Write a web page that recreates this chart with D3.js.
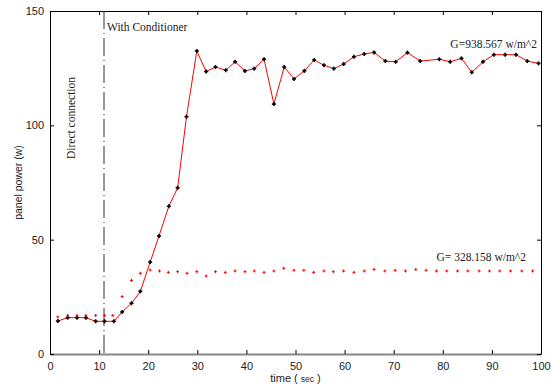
<!DOCTYPE html>
<html>
<head>
<meta charset="utf-8">
<script src="https://cdn.jsdelivr.net/npm/d3@7"></script>
<style>
  body { margin: 0; background: #fff; }
  svg text { font-family: "Liberation Sans", Arial, sans-serif; }
</style>
</head>
<body>
<div id="chart"></div>
<script>
// time (s) and panel power (w), G = 938.567 w/m^2
const highTime = [1.6, 3.6, 5.5, 7.3, 9.3, 11.1, 13.0, 14.7, 16.6, 18.4, 20.4, 22.2, 24.2, 26.0, 27.8, 29.9,
    31.8, 33.7, 35.8, 37.7, 39.7, 41.6, 43.6, 45.6, 47.7, 49.7, 51.8, 53.8, 55.8, 57.8, 59.8,
    61.9, 64.0, 66.0, 68.3, 70.4, 72.8, 75.4, 79.3, 81.5, 83.8, 85.9, 88.2, 90.4, 92.7, 94.9, 97.2, 99.5];
const highPower = [14.4, 15.9, 15.9, 15.9, 14.3, 14.3, 14.3, 18.4, 22.2, 27.4, 40.2, 51.6, 64.6, 72.7, 103.8, 132.5,
    123.5, 125.5, 124.1, 127.8, 123.8, 124.8, 128.9, 109.3, 125.5, 120.3, 123.8, 128.6, 126.3, 124.8, 126.8,
    130.0, 131.2, 131.9, 128.1, 127.8, 131.8, 128.1, 128.9, 127.8, 129.3, 123.2, 127.8, 130.9, 130.9, 130.9, 128.1, 127.1];

// G = 328.158 w/m^2
const lowTime = [1.6, 3.6, 5.5, 7.3, 9.3, 11.1, 12.8, 14.7, 16.6, 18.4, 20.4, 22.3, 24.1, 26.0, 27.9, 29.9,
    31.8, 33.7, 35.7, 37.7, 39.7, 41.6, 43.6, 45.6, 47.6, 49.7, 51.7, 53.7, 55.8, 57.7, 59.8,
    61.9, 64.0, 66.0, 68.2, 70.3, 72.4, 74.5, 76.6, 78.7, 80.8, 83.0, 85.1, 87.4, 89.5, 91.6, 93.8, 96.1, 98.3];
const lowPower = [16.2, 16.9, 16.9, 16.9, 16.9, 16.9, 16.9, 25.1, 32.2, 35.3, 36.7, 36.3, 35.7, 36.0, 35.3, 36.0,
    34.1, 36.0, 35.7, 36.3, 36.0, 36.3, 35.7, 36.3, 37.5, 36.6, 36.6, 35.7, 36.3, 36.0, 36.3,
    35.7, 36.3, 37.0, 36.3, 36.6, 36.3, 37.0, 36.6, 36.3, 36.3, 36.3, 36.3, 36.3, 36.3, 36.3, 36.3, 36.3, 36.3];

const xTicks = [0, 10, 20, 30, 40, 50, 60, 70, 80, 90, 100];
const yTicks = [0, 50, 100, 150];
const switchTime = 11;

const width = 551, height = 387;
const margin = { top: 11, right: 10, bottom: 33, left: 50 };

const svg = d3.select('#chart').append('svg')
    .attr('width', width)
    .attr('height', height);

const x = d3.scaleLinear().domain([0, 100]).range([margin.left, width - margin.right]);
const y = d3.scaleLinear().domain([0, 150]).range([height - margin.bottom, margin.top]);

const high = highTime.map((t, i) => [t, highPower[i]]);
const low = lowTime.map((t, i) => [t, lowPower[i]]);

// axes box
const axisStyle = g => {
    g.selectAll('path.domain').attr('stroke', '#000');
    g.selectAll('.tick line').attr('stroke', '#000');
    g.selectAll('.tick text').attr('font-size', 11).attr('fill', '#222');
};

svg.append('g')
    .attr('transform', `translate(0,${y(0)})`)
    .call(d3.axisBottom(x).tickValues(xTicks).tickSizeInner(-4).tickSizeOuter(0).tickPadding(8))
    .call(axisStyle)
    .call(g => g.select('path.domain').attr('stroke', '#888').attr('stroke-width', 2));

svg.append('g')
    .attr('transform', `translate(0,${y(150)})`)
    .call(d3.axisTop(x).tickValues(xTicks).tickSizeInner(-4).tickSizeOuter(0).tickFormat(''))
    .call(axisStyle);

svg.append('g')
    .attr('transform', `translate(${x(0)},0)`)
    .call(d3.axisLeft(y).tickValues(yTicks).tickSizeInner(-4).tickSizeOuter(0).tickPadding(6))
    .call(axisStyle);

svg.append('g')
    .attr('transform', `translate(${x(100)},0)`)
    .call(d3.axisRight(y).tickValues(yTicks).tickSizeInner(-4).tickSizeOuter(0).tickFormat(''))
    .call(axisStyle);

// switch-over marker
svg.append('line')
    .attr('x1', x(switchTime)).attr('x2', x(switchTime))
    .attr('y1', y(150)).attr('y2', y(0))
    .attr('stroke', '#333')
    .attr('stroke-width', 1)
    .attr('stroke-dasharray', '18,4,1,4');

// high irradiance line
svg.append('path')
    .datum(high)
    .attr('d', d3.line().x(d => x(d[0])).y(d => y(d[1])))
    .attr('fill', 'none')
    .attr('stroke', '#ff0000')
    .attr('stroke-width', 1);

const plus = (sel, size, color, sw) => {
    sel.append('line')
        .attr('x1', -size).attr('x2', size).attr('y1', 0).attr('y2', 0)
        .attr('stroke', color).attr('stroke-width', sw);
    sel.append('line')
        .attr('y1', -size).attr('y2', size).attr('x1', 0).attr('x2', 0)
        .attr('stroke', color).attr('stroke-width', sw);
};

svg.append('g').selectAll('g')
    .data(high)
    .join('g')
    .attr('transform', d => `translate(${x(d[0])},${y(d[1])})`)
    .call(plus, 2, '#000', 1.6);

svg.append('g').selectAll('g')
    .data(low)
    .join('g')
    .attr('transform', d => `translate(${x(d[0])},${y(d[1])})`)
    .call(plus, 1.5, '#ff0000', 1);

// annotations (serif, like the original figure)
const serif = '"Liberation Serif", "Times New Roman", serif';

svg.append('text')
    .attr('x', x(switchTime) + 3).attr('y', 31)
    .style('font-family', serif).attr('font-size', 11.5)
    .attr('fill', '#222')
    .text('With Conditioner');

svg.append('text')
    .attr('transform', `translate(${x(switchTime) - 29},118) rotate(-90)`)
    .attr('text-anchor', 'middle')
    .style('font-family', serif).attr('font-size', 11.5)
    .attr('fill', '#222')
    .text('Direct connection');

svg.append('text')
    .attr('x', 537).attr('y', 48)
    .attr('text-anchor', 'end')
    .style('font-family', serif).attr('font-size', 11.5)
    .attr('fill', '#222')
    .text('G=938.567 w/m^2');

svg.append('text')
    .attr('x', 526).attr('y', 261)
    .attr('text-anchor', 'end')
    .style('font-family', serif).attr('font-size', 11.5)
    .attr('fill', '#222')
    .text('G= 328.158 w/m^2');

// axis labels
svg.append('text')
    .attr('transform', `translate(22,${(y(0) + y(150)) / 2}) rotate(-90)`)
    .attr('text-anchor', 'middle')
    .attr('font-size', 10.5)
    .attr('fill', '#222')
    .text('panel power (w)');

const xl = svg.append('text')
    .attr('x', x(50)).attr('y', 382)
    .attr('text-anchor', 'middle')
    .attr('font-size', 11)
    .attr('fill', '#222');
xl.append('tspan').text('time ( ');
xl.append('tspan').attr('font-size', 8.5).text('sec');
xl.append('tspan').text(' )');
</script>
</body>
</html>
